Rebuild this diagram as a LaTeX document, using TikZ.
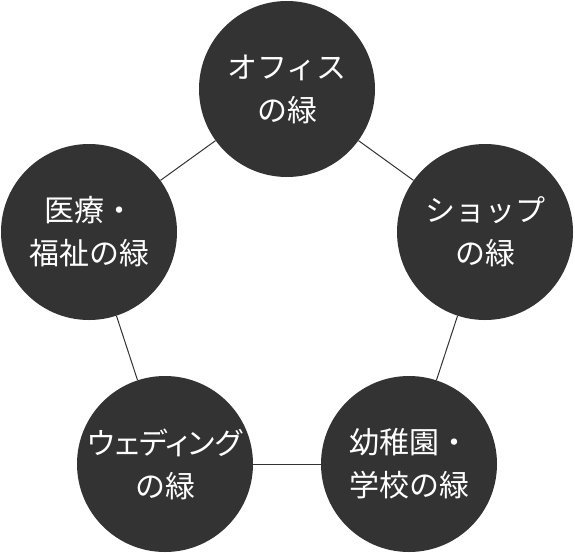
\documentclass[tikz,border=0pt]{standalone}
\usepackage{fontspec}
\newfontfamily\jp{Noto Sans CJK JP}
\newfontfamily\jpp[RawFeature=+palt]{Noto Sans CJK JP}
\definecolor{dark}{HTML}{333333}
\begin{document}
\begin{tikzpicture}[x=1pt,y=-1pt,
  bubble/.style={circle, fill=dark, minimum size=176pt, inner sep=0pt, text=white,
    font=\jp\fontsize{30}{43}\selectfont, align=center},
  link/.style={draw=dark, line width=1pt}]
\useasboundingbox (0,0) rectangle (575,552);
\node[bubble] (top) at (287,89) {オフィス\\の緑};
\node[bubble] (right) at (485,232) {ショップ\\の緑};
\node[bubble] (br) at (409,464) {幼稚園・\\学校の緑};
\node[bubble] (bl) at (165,464) {{\jpp\fontsize{30}{43}\selectfont ウェディング}\\の緑};
\node[bubble] (left) at (89,232) {医療・\\福祉の緑};
\draw[link] (top) -- (right);
\draw[link] (right) -- (br);
\draw[link] (br) -- (bl);
\draw[link] (bl) -- (left);
\draw[link] (left) -- (top);
\end{tikzpicture}
\end{document}
